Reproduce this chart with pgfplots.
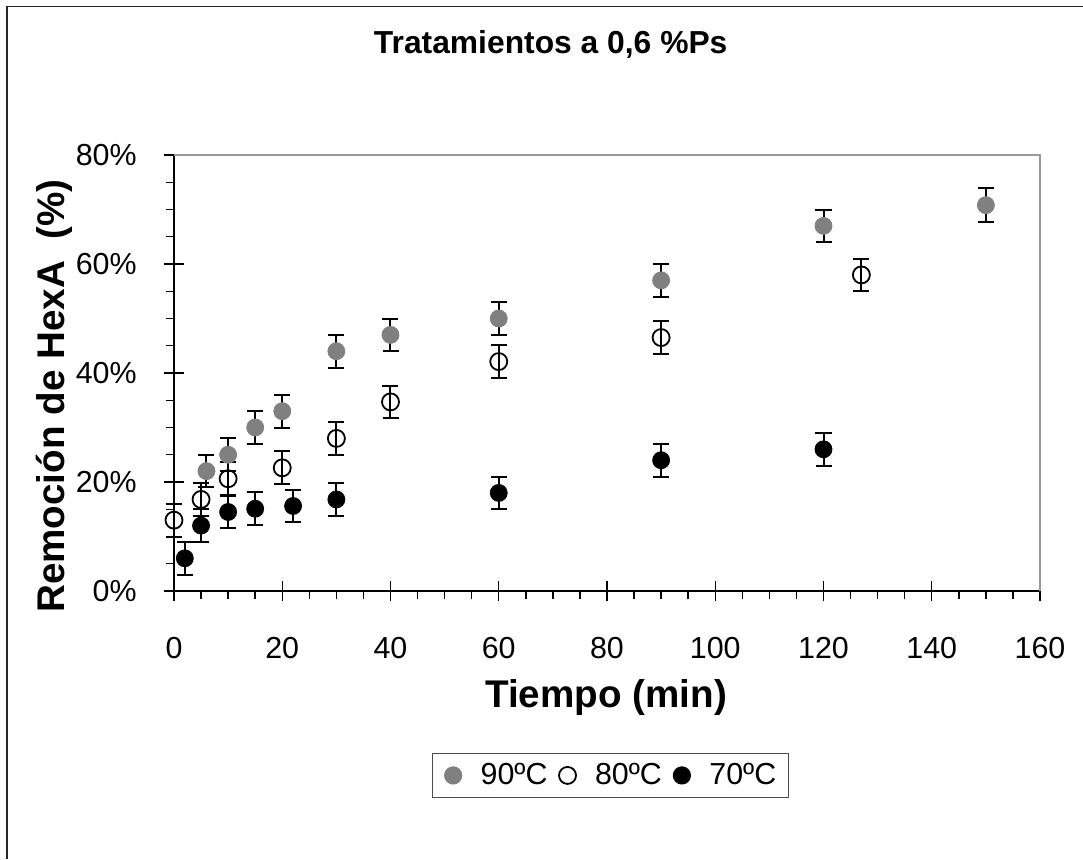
\documentclass[border=0pt]{standalone}
\usepackage{pgfplots}
\pgfplotsset{compat=1.18}
\usepackage{fontspec}
\setmainfont{Liberation Sans}
\definecolor{mgray}{RGB}{128,128,128}
\begin{document}
\begin{tikzpicture}[x=0.5pt,y=0.5pt]
\useasboundingbox (0,0) rectangle (1083,859);
\draw[line width=0.8pt, black!85] (6.7,0) -- (6.7,852.3) -- (1083,852.3);
\begin{axis}[
  at={(87pt,134pt)}, anchor=south west,
  scale only axis, width=433pt, height=218pt,
  xmin=0, xmax=160, ymin=0, ymax=80,
  clip=false,
  axis x line*=bottom, axis y line*=left,
  axis line style={line width=0.8pt, black},
  xtick={0,20,...,160}, ytick={0,20,...,80},
  minor x tick num=3, minor y tick num=3,
  tick align=center,
  major tick length=10pt, minor tick length=4pt,
  every tick/.append style={black, line width=0.7pt},
  minor x tick style={yshift=-2pt},
  minor y tick style={xshift=-2pt},
  tick label style={font=\fontsize{15.2}{18}\selectfont},
  /pgf/number format/assume math mode=true,
  xticklabel style={anchor=base, inner sep=0pt, yshift=-28.5pt},
  yticklabel style={anchor=base east, inner sep=0pt, xshift=-13.5pt, yshift=-5.4pt},
  yticklabel={\pgfmathprintnumber{\tick}\%},
  title={Tratamientos a 0,6 \%Ps},
  title style={at={(axis description cs:0.435,1.206)}, anchor=base, font=\bfseries\fontsize{15.9}{18}\selectfont},
  xlabel={Tiempo (min)},
  xlabel style={at={(axis description cs:0.499,-0.268)}, anchor=base, font=\bfseries\fontsize{19.3}{22}\selectfont},
  ylabel={Remoción de HexA~~(\%)},
  ylabel style={at={(axis description cs:-0.1259,0.447)}, anchor=base, font=\bfseries\fontsize{19.3}{22}\selectfont},
  legend columns=3,
  legend image code/.code={\draw[#1] plot coordinates {(0pt,0pt)};},
  legend style={at={(axis description cs:0.504,-0.423)}, anchor=center, draw=black!70, line width=0.6pt,
    font=\fontsize{15.2}{18}\selectfont, inner xsep=6pt, inner ysep=3pt,
    nodes={inner xsep=0pt},
    /tikz/every even column/.append style={column sep=5.75pt},
    /tikz/every odd column/.append style={column sep=9.5pt}},
  legend cell align=left,
]
\draw[black!40, line width=0.8pt] (rel axis cs:0,1) -- (rel axis cs:1,1) -- (rel axis cs:1,0);
\addplot[only marks, mark=*, mgray, mark size=4.25pt, mark options={fill=mgray, draw=mgray},
  error bars/.cd, y dir=both, y explicit,
  error bar style={line width=1pt, black},
  error mark options={rotate=90, mark size=4pt, line width=1pt, black}]
  coordinates {
  (6,22) +- (0,3)
  (10,25) +- (0,3)
  (15,30) +- (0,3)
  (20,33) +- (0,3)
  (30,44) +- (0,3)
  (40,47) +- (0,3)
  (60,50) +- (0,3)
  (90,57) +- (0,3)
  (120,67) +- (0,3)
  (150,70.8) +- (0,3.1)
  };
\addlegendentry{90ºC}
\addplot[only marks, mark=o, black, mark size=4.25pt, mark options={line width=0.9pt, fill=none},
  error bars/.cd, y dir=both, y explicit,
  error bar style={line width=1pt, black},
  error mark options={rotate=90, mark size=4pt, line width=1pt, black}]
  coordinates {
  (0,13) +- (0,3)
  (5,16.8) +- (0,3)
  (10,20.6) +- (0,3)
  (20,22.6) +- (0,3)
  (30,28) +- (0,3)
  (40,34.7) +- (0,3)
  (60,42.1) +- (0,3)
  (90,46.5) +- (0,3)
  (127,58) +- (0,3)
  };
\addlegendentry{80ºC}
\addplot[only marks, mark=*, black, mark size=4.25pt, mark options={fill=black},
  error bars/.cd, y dir=both, y explicit,
  error bar style={line width=1pt, black},
  error mark options={rotate=90, mark size=4pt, line width=1pt, black}]
  coordinates {
  (2,6) +- (0,3)
  (5,12) +- (0,3)
  (10,14.5) +- (0,3)
  (15,15.1) +- (0,3)
  (22,15.6) +- (0,3)
  (30,16.8) +- (0,3)
  (60,18) +- (0,3)
  (90,24) +- (0,3)
  (120,26) +- (0,3)
  };
\addlegendentry{70ºC}
\end{axis}
\end{tikzpicture}
\end{document}
